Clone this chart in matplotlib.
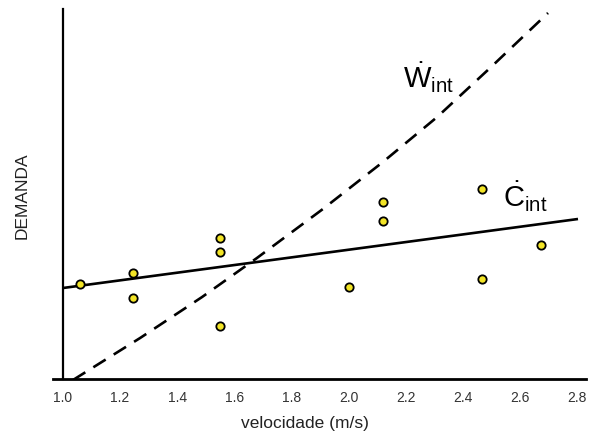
import matplotlib
matplotlib.use("Agg")
import matplotlib.pyplot as plt
import numpy as np

plt.rcParams['font.family'] = ['Liberation Sans', 'DejaVu Sans']
plt.rcParams['mathtext.fontset'] = 'custom'
plt.rcParams['mathtext.rm'] = 'Liberation Sans'
plt.rcParams['mathtext.it'] = 'Liberation Sans:italic'

# Data (arbitrary demand units)
pts_x = [1.06, 1.245, 1.245, 1.55, 1.55, 1.55, 2.00, 2.12, 2.12, 2.467, 2.467, 2.674]
pts_y = [95, 106, 81, 141, 127, 53, 92, 177, 158, 190, 100, 134]

c_int_x = [1.0, 2.803]
c_int_y = [91, 160]

w_int_x = [1.035, 1.27, 1.487, 1.679, 1.910, 2.120, 2.310, 2.495, 2.698]
w_int_y = [-1, 41, 82, 121, 170, 217, 262, 311, 366]

xticks = [1.0, 1.2, 1.4, 1.6, 1.8, 2.0, 2.2, 2.4, 2.6, 2.8]
xticklabels = ["1.0", "1.2", "1.4", "1.6", "1.8", "2.0", "2.2", "2.4", "2.6", "2.8"]

fig = plt.figure(figsize=(5.92, 4.34), dpi=100)
ax = fig.add_axes([53/592, 1-379/434, 533/592, 370/434])

ax.set_xlim(0.965, 2.831)
ax.set_ylim(0, 370)

ax.plot(c_int_x, c_int_y, color='black', lw=1.9, solid_capstyle='butt', zorder=2)
ax.plot(w_int_x, w_int_y, color='black', lw=1.9, dashes=(5.5, 3.6), zorder=2)
ax.scatter(pts_x, pts_y, s=36, facecolor='#f2e426', edgecolor='black', linewidths=1.3, zorder=3)

ax.text(2.19, 291, r'$\dot{\mathrm{W}}_{\mathrm{int}}$', fontsize=21, ha='left', va='baseline')
ax.text(2.54, 172, r'$\dot{\mathrm{C}}_{\mathrm{int}}$', fontsize=21, ha='left', va='baseline')

for s in ['top', 'right']:
    ax.spines[s].set_visible(False)
ax.spines['left'].set_position(('data', 1.0))
ax.spines['left'].set_linewidth(1.6)
ax.spines['bottom'].set_linewidth(2.0)

ax.set_xticks(xticks)
ax.set_xticklabels(xticklabels)
ax.set_yticks([])
ax.tick_params(axis='x', length=0, pad=8.5, labelsize=10, labelcolor='#333333')

fig.text(305/592, 1-428/434, 'velocidade (m/s)', fontsize=12.5, ha='center', va='baseline', color='#222222')
fig.text(22/592, 1-196/434, 'DEMANDA', fontsize=12.5, rotation=90, ha='center', va='center', color='#222222')

fig.savefig('out.png', dpi=100)
